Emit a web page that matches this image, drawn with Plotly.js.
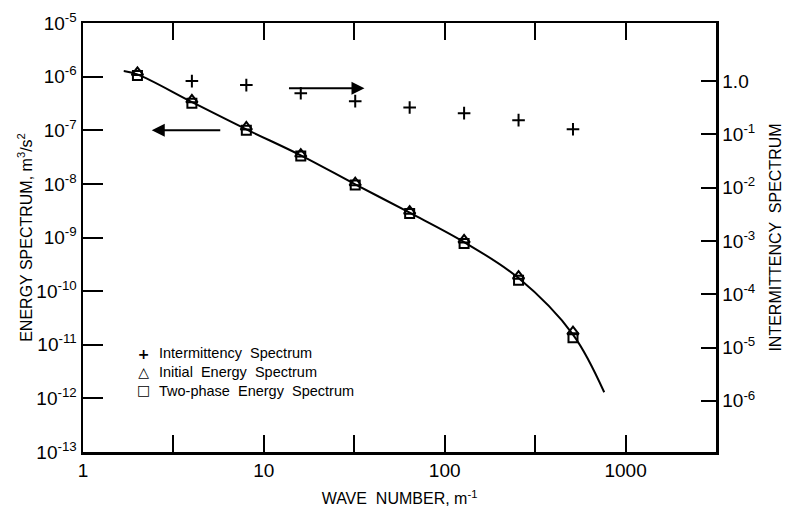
<!DOCTYPE html>
<html>
<head>
<meta charset="utf-8">
<script src="https://cdn.plot.ly/plotly-3.0.1.min.js"></script>
<style>html,body{margin:0;padding:0;background:#fff;}#chart{width:786px;height:516px;}</style>
</head>
<body>
<div id="chart"></div>
<script>
// Wave numbers of the measured points (m^-1)
var waveNumbers = [2, 4, 8, 16, 32, 64, 128, 256, 512];
// Initial energy spectrum (triangles), m^3/s^2
var initialEnergy = [1.2e-6, 3.7e-7, 1.15e-7, 3.6e-8, 1.05e-8, 3.1e-9, 9.0e-10, 1.9e-10, 1.75e-11];
// Two-phase energy spectrum (squares), m^3/s^2
var twoPhaseEnergy = [1.05e-6, 3.2e-7, 1.0e-7, 3.3e-8, 9.5e-9, 2.8e-9, 7.7e-10, 1.6e-10, 1.35e-11];
// Intermittency spectrum (+), right axis
var intermK = [4, 8, 16, 32, 64, 128, 256, 512];
var intermittency = [1.0, 0.84, 0.59, 0.42, 0.32, 0.25, 0.185, 0.125];
// Fitted curve through the energy spectra
var curveK = [1.68, 2, 4, 8, 16, 32, 64, 128, 256, 512, 762];
var curveE = [1.27e-6, 1.1e-6, 3.35e-7, 1.04e-7, 3.4e-8, 9.8e-9, 2.9e-9, 8.2e-10, 1.75e-10, 1.55e-11, 1.3e-12];

// Tick labels
var xTickVals = [1, 3.162, 10, 31.62, 100, 316.2, 1000, 3162];
var xTickText = ['1', '', '10', '', '100', '', '1000', ''];
var yTickVals = [1e-13, 1e-12, 1e-11, 1e-10, 1e-9, 1e-8, 1e-7, 1e-6, 1e-5];
var yTickText = ['10<sup>-13</sup>', '10<sup>-12</sup>', '10<sup>-11</sup>', '10<sup>-10</sup>', '10<sup>-9</sup>', '10<sup>-8</sup>', '10<sup>-7</sup>', '10<sup>-6</sup>', '10<sup>-5</sup>'];
var y2TickVals = [1e-6, 1e-5, 1e-4, 1e-3, 1e-2, 1e-1, 1];
var y2TickText = ['10<sup>-6</sup>', '10<sup>-5</sup>', '10<sup>-4</sup>', '10<sup>-3</sup>', '10<sup>-2</sup>', '10<sup>-1</sup>', '1.0'];

// Legend (drawn as text in the plot)
var legendSymbols = ['+', '\u25B3', '\u25A1'];
var legendLabels = ['Intermittency  Spectrum', 'Initial  Energy  Spectrum', 'Two-phase  Energy  Spectrum'];

var FONT = 'Liberation Sans, Arial, Helvetica, sans-serif';

var traces = [
  {x: curveK, y: curveE, mode: 'lines', line: {color: '#000', width: 2, shape: 'spline', smoothing: 1}, showlegend: false, hoverinfo: 'skip'},
  {x: intermK, y: intermittency, yaxis: 'y2', mode: 'markers', name: legendLabels[0], showlegend: false,
   marker: {symbol: 'cross-thin', size: 9, line: {color: '#000', width: 2}, color: '#000'}},
  {x: waveNumbers, y: initialEnergy, mode: 'markers', name: legendLabels[1], showlegend: false,
   marker: {symbol: 'triangle-up-open', size: 10, color: '#000', line: {color: '#000', width: 2}}},
  {x: waveNumbers, y: twoPhaseEnergy, mode: 'markers', name: legendLabels[2], showlegend: false,
   marker: {symbol: 'square-open', size: 9, color: '#000', line: {color: '#000', width: 2}}}
];

var legendCenterY = (452 - 372) / 429;
var annotations = [
  {xref: 'x', yref: 'y', x: Math.log10(2.4), y: -7.0, ax: 70, ay: 0, axref: 'pixel', ayref: 'pixel',
   showarrow: true, arrowhead: 2, arrowsize: 1.3, arrowwidth: 2, arrowcolor: '#000', text: ''},
  {xref: 'x', yref: 'y', x: Math.log10(36), y: -6.215, ax: -77, ay: 0, axref: 'pixel', ayref: 'pixel',
   showarrow: true, arrowhead: 2, arrowsize: 1.3, arrowwidth: 2, arrowcolor: '#000', text: ''},
  {xref: 'paper', yref: 'paper', x: (143 - 83) / 633, y: legendCenterY, xanchor: 'center', yanchor: 'middle',
   align: 'center', showarrow: false, text: legendSymbols.map(function (s) { return '<b>' + s + '</b>'; }).join('<br>'),
   font: {family: 'DejaVu Sans, sans-serif', size: 14, color: '#000'}},
  {xref: 'paper', yref: 'paper', x: (157 - 83) / 633, y: legendCenterY, xanchor: 'left', yanchor: 'middle',
   align: 'left', showarrow: false, text: legendLabels.join('<br>'),
   font: {family: FONT, size: 14.5, color: '#000'}}
];

var layout = {
  width: 786, height: 516,
  margin: {l: 83, r: 70, t: 23, b: 64},
  paper_bgcolor: '#fff', plot_bgcolor: '#fff',
  font: {family: FONT, color: '#000', size: 15},
  showlegend: false,
  xaxis: {type: 'log', range: [0, 3.5], tickmode: 'array', tickvals: xTickVals, ticktext: xTickText,
          ticks: 'inside', ticklen: 17, tickwidth: 2, tickcolor: '#000',
          showline: true, linewidth: 2.5, linecolor: '#000', mirror: 'ticks',
          showgrid: false, zeroline: false, tickfont: {size: 19},
          title: {text: 'WAVE  NUMBER, m<sup>-1</sup>', font: {size: 16}, standoff: 13}},
  yaxis: {type: 'log', range: [-13, -5], tickmode: 'array', tickvals: yTickVals, ticktext: yTickText,
          ticks: 'inside', ticklen: 20, tickwidth: 2, tickcolor: '#000',
          showline: true, linewidth: 2.5, linecolor: '#000',
          showgrid: false, zeroline: false, tickfont: {size: 19},
          title: {text: 'ENERGY SPECTRUM, m<sup>3</sup>/s<sup>2</sup>', font: {size: 16}, standoff: 0}},
  yaxis2: {type: 'log', range: [-6.96, 1.09], overlaying: 'y', side: 'right', tickmode: 'array',
           tickvals: y2TickVals, ticktext: y2TickText,
           ticks: 'inside', ticklen: 15, tickwidth: 2, tickcolor: '#000',
           showline: true, linewidth: 2.5, linecolor: '#000',
           showgrid: false, zeroline: false, tickfont: {size: 19},
           title: {text: 'INTERMITTENCY  SPECTRUM', font: {size: 16}, standoff: 16}},
  annotations: annotations
};

Plotly.newPlot('chart', traces, layout, {displayModeBar: false, staticPlot: true});
</script>
</body>
</html>
